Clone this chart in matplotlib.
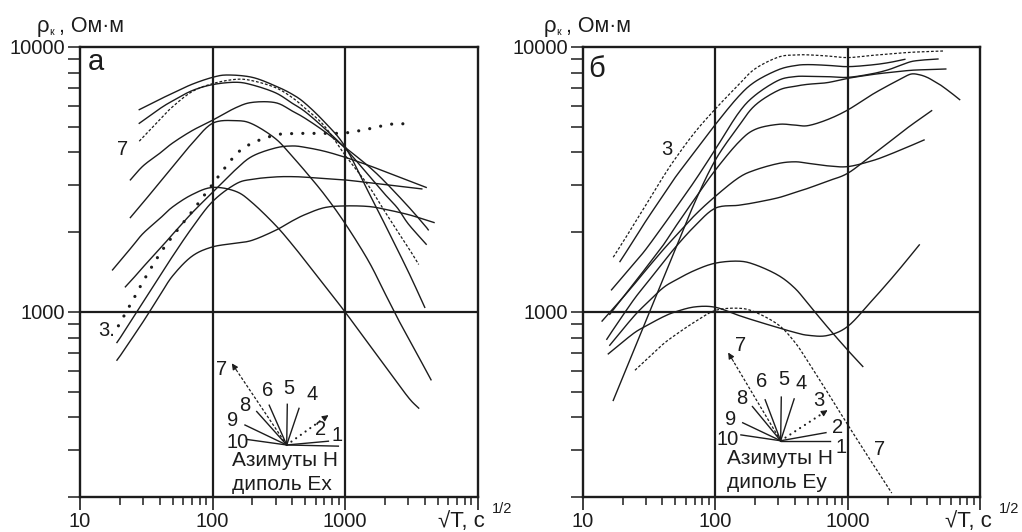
import numpy as np
import matplotlib
matplotlib.use("Agg")
import matplotlib.pyplot as plt
from matplotlib.ticker import FixedLocator, FixedFormatter, NullFormatter

plt.rcParams['font.family'] = ['Liberation Sans', 'DejaVu Sans']

# ---------------- Panel "а" (dipole Ex): sqrt(T) [s^1/2] vs rho_k [Ohm*m]
A1_X = [28, 40, 50, 70, 100, 130, 200, 300, 400, 500, 700, 1000, 1500, 2000, 3000, 4000]
A1_Y = [5800, 6345, 6690, 7230, 7680, 7840, 7680, 7120, 6630, 6130, 5210, 4210, 2840, 2140, 1420, 1040]

A2_X = [28, 40, 50, 70, 100, 150, 200, 300, 400, 500, 700, 1000, 1500, 2000, 2500, 3000, 4100]
A2_Y = [5150, 5850, 6260, 6840, 7210, 7360, 7190, 6710, 6130, 5700, 4930, 4150, 3290, 2780, 2460, 2150, 1800]

A7_X = [28, 40, 50, 70, 100, 150, 200, 300, 400, 500, 700, 1000, 1500, 2000, 2500, 3000, 3600]
A7_Y = [4410, 5320, 5950, 6780, 7270, 7550, 7460, 7020, 6440, 5870, 5030, 3910, 3000, 2390, 2010, 1750, 1510]

A4_X = [24, 30, 40, 50, 70, 100, 150, 200, 300, 400, 500, 700, 1000, 1500, 2000, 3000, 4000, 4250]
A4_Y = [3150, 3560, 3970, 4340, 4830, 5290, 5900, 6180, 6160, 5730, 5380, 4800, 4180, 3550, 3100, 2500, 2120, 2040]

A5_X = [24, 30, 40, 50, 70, 100, 150, 200, 300, 400, 500, 700, 1000, 1500, 2000, 2500, 3000, 4000, 4460]
A5_Y = [2270, 2590, 3085, 3530, 4320, 5150, 5270, 5120, 4500, 3860, 3400, 2770, 2160, 1560, 1176, 944, 798, 613, 554]

A8_X = [17.6, 20, 25, 30, 40, 50, 70, 100, 150, 200, 300, 400, 500, 700, 1000, 1500, 2000, 3000, 3600]
A8_Y = [1440, 1553, 1775, 1980, 2250, 2490, 2770, 2950, 2850, 2580, 2120, 1795, 1560, 1259, 1000, 760, 625, 476, 433]

A6_X = [22, 25, 30, 40, 50, 70, 100, 150, 200, 300, 400, 500, 700, 1000, 1500, 2000, 3000, 4100]
A6_Y = [1243, 1332, 1478, 1729, 1963, 2363, 2825, 3450, 3870, 4160, 4230, 4180, 4040, 3835, 3576, 3385, 3130, 2950]

A9_X = [19, 20, 25, 30, 40, 50, 70, 100, 150, 200, 300, 400, 500, 700, 1000, 1500, 2000, 3000, 3800]
A9_Y = [766, 795, 946, 1091, 1363, 1622, 2075, 2608, 3041, 3167, 3232, 3240, 3225, 3186, 3148, 3076, 3022, 2954, 2912]

A10_X = [19, 20, 25, 30, 40, 50, 70, 100, 150, 200, 300, 400, 500, 700, 1000, 1500, 2000, 3000, 4000, 4700]
A10_Y = [657, 680, 802, 919, 1152, 1367, 1622, 1759, 1816, 1864, 2033, 2205, 2330, 2475, 2512, 2500, 2440, 2330, 2230, 2174]

A3_X = [19.5, 22, 25, 30, 40, 50, 70, 100, 150, 200, 300, 400, 500, 700, 1000, 1500, 2000, 2500, 3000]
A3_Y = [886, 986, 1104, 1305, 1655, 1930, 2390, 3032, 3924, 4337, 4655, 4710, 4720, 4720, 4736, 4903, 5070, 5136, 5110]

# ---------------- Panel "б" (dipole Ey)
B3_X = [17, 20, 25, 30, 40, 50, 70, 100, 150, 200, 300, 400, 500, 700, 1000, 1500, 2000, 3000, 5000, 5300]
B3_Y = [1608, 1826, 2186, 2533, 3204, 3790, 4756, 5828, 7199, 8274, 9160, 9330, 9340, 9250, 9120, 9290, 9400, 9550, 9650, 9660]

B1_X = [19.1, 20, 25, 30, 40, 50, 70, 100, 150, 200, 300, 400, 500, 700, 1000, 1500, 2000, 2500, 2700]
B1_Y = [1548, 1603, 1908, 2205, 2732, 3222, 4022, 5089, 6505, 7396, 8208, 8507, 8580, 8527, 8430, 8552, 8716, 8910, 8984]

B2_X = [16.5, 20, 25, 30, 40, 50, 70, 100, 150, 200, 300, 400, 500, 700, 1000, 1500, 2000, 2500, 3000, 3500, 4000, 4800]
B2_Y = [1211, 1355, 1544, 1724, 2099, 2454, 3120, 4100, 5636, 6570, 7485, 7729, 7751, 7729, 7680, 7910, 8189, 8527, 8804, 8906, 8957, 9010]

B4_X = [17, 20, 25, 30, 40, 50, 70, 100, 150, 200, 300, 400, 500, 700, 1000, 1500, 2000, 3000, 4000, 5500]
B4_Y = [463, 564, 738, 925, 1313, 1724, 2586, 3735, 5018, 6024, 6863, 7104, 7230, 7335, 7615, 7860, 8000, 8166, 8213, 8260]

B5_X = [16, 20, 25, 30, 40, 50, 70, 100, 150, 200, 300, 400, 500, 700, 1000, 1500, 2000, 2500, 3000, 3500, 4000, 4500, 5000, 6000, 7000]
B5_Y = [979, 1129, 1302, 1466, 1770, 2093, 2669, 3424, 4367, 4884, 5106, 5071, 5047, 5314, 5783, 6577, 7134, 7566, 7902, 7850, 7670, 7420, 7194, 6727, 6328]

B6_X = [14, 16, 20, 25, 30, 40, 50, 70, 100, 150, 200, 300, 400, 500, 700, 1000, 1500, 2000, 3000, 3500, 3770]
B6_Y = [923, 995, 1129, 1287, 1438, 1704, 1928, 2314, 2728, 3208, 3432, 3633, 3686, 3639, 3560, 3535, 3709, 3902, 4243, 4386, 4457]

B8_X = [15.2, 16, 20, 25, 30, 40, 50, 70, 100, 150, 200, 300, 400, 500, 700, 1000, 1500, 2000, 2500, 3000, 3500, 4000, 4300]
B8_Y = [788, 820, 967, 1134, 1272, 1523, 1752, 2107, 2462, 2526, 2586, 2698, 2825, 2926, 3113, 3336, 3879, 4329, 4725, 5062, 5346, 5605, 5749]

B9_X = [16, 20, 25, 30, 40, 50, 70, 100, 150, 200, 300, 400, 500, 700, 1000, 1300]
B9_Y = [748, 857, 977, 1071, 1227, 1316, 1434, 1527, 1554, 1507, 1373, 1227, 1076, 879, 717, 622]

B10_X = [15.6, 20, 25, 30, 40, 50, 70, 100, 150, 200, 300, 400, 500, 700, 1000, 1500, 2000, 2500, 3000, 3470]
B10_Y = [694, 769, 839, 884, 955, 1000, 1044, 1041, 970, 926, 871, 836, 816, 814, 881, 1093, 1285, 1465, 1637, 1790]

B7_X = [24.8, 30, 40, 50, 70, 100, 150, 200, 300, 400, 500, 700, 1000, 1500, 2000, 2150]
B7_Y = [602, 658, 752, 818, 916, 1012, 1032, 998, 893, 767, 650, 499, 375, 273, 219, 207]

X_TICKS = [10, 100, 1000, 10000]
X_TICK_LABELS = ['10', '100', '1000', '']
Y_TICKS = [1000, 10000]
Y_TICK_LABELS = ['1000', '10000']


def smooth_loglog(x, y, n=14):
    """Catmull-Rom path through the points, built in log-log space."""
    p = np.column_stack([np.log10(x), np.log10(y)])
    P = np.vstack([2 * p[0] - p[1], p, 2 * p[-1] - p[-2]])
    t = np.linspace(0, 1, n, endpoint=False)[:, None]
    segs = []
    for i in range(1, len(P) - 2):
        p0, p1, p2, p3 = P[i - 1], P[i], P[i + 1], P[i + 2]
        segs.append(0.5 * (2 * p1 + (-p0 + p2) * t
                           + (2 * p0 - 5 * p1 + 4 * p2 - p3) * t ** 2
                           + (-p0 + 3 * p1 - 3 * p2 + p3) * t ** 3))
    segs.append(p[-1:])
    s = np.vstack(segs)
    return 10 ** s[:, 0], 10 ** s[:, 1]


INK = '#1c1c1c'
SOLID = dict(color=INK, lw=1.0, ls='-')
DASHED = dict(color=INK, lw=0.9, ls=(0, (2.2, 1.5)))
DOTTED = dict(color=INK, lw=2.3, ls=(0, (0.01, 3.5)), dash_capstyle='round')

fig = plt.figure(figsize=(10.22, 5.32), dpi=100)
W, H = 1022, 532
ax_a = fig.add_axes([80 / W, 1 - 497 / H, 397.5 / W, 450 / H])
ax_b = fig.add_axes([582.7 / W, 1 - 497 / H, 397.5 / W, 450 / H])


def setup(ax):
    ax.set_xscale('log')
    ax.set_yscale('log')
    ax.set_xlim(10, 10000)
    ax.set_ylim(200, 10000)
    ax.xaxis.set_major_locator(FixedLocator(X_TICKS))
    ax.xaxis.set_major_formatter(FixedFormatter(X_TICK_LABELS))
    ax.xaxis.set_minor_locator(FixedLocator([m * d for d in (10, 100, 1000) for m in range(2, 10)]))
    ax.xaxis.set_minor_formatter(NullFormatter())
    ax.yaxis.set_major_locator(FixedLocator(Y_TICKS))
    ax.yaxis.set_major_formatter(FixedFormatter(Y_TICK_LABELS))
    ax.yaxis.set_minor_locator(FixedLocator([m * d for d in (100, 1000) for m in range(2, 10)]))
    ax.yaxis.set_minor_formatter(NullFormatter())
    ax.tick_params(axis='x', which='major', direction='out', length=9, width=1.2, pad=1.5,
                   labelsize=14.5, colors=INK)
    ax.tick_params(axis='x', which='minor', direction='out', length=6, width=1.1, colors=INK)
    ax.tick_params(axis='y', which='both', direction='out', length=9, width=1.1, pad=1.5,
                   labelsize=14.5, colors=INK)
    for s in ax.spines.values():
        s.set_linewidth(1.7)
        s.set_color(INK)
    for v in (100, 1000):
        ax.axvline(v, color=INK, lw=1.6, zorder=1)
    ax.axhline(1000, color=INK, lw=1.6, zorder=1)


setup(ax_a)
setup(ax_b)


def curve(ax, x, y, style):
    sx, sy = smooth_loglog(x, y)
    ax.plot(sx, sy, zorder=3, **style)


for x, y in [(A1_X, A1_Y), (A2_X, A2_Y), (A4_X, A4_Y), (A5_X, A5_Y), (A8_X, A8_Y),
             (A6_X, A6_Y), (A9_X, A9_Y), (A10_X, A10_Y)]:
    curve(ax_a, x, y, SOLID)
curve(ax_a, A7_X, A7_Y, DASHED)
curve(ax_a, A3_X, A3_Y, DOTTED)

for x, y in [(B1_X, B1_Y), (B2_X, B2_Y), (B4_X, B4_Y), (B5_X, B5_Y), (B6_X, B6_Y),
             (B8_X, B8_Y), (B9_X, B9_Y), (B10_X, B10_Y)]:
    curve(ax_b, x, y, SOLID)
curve(ax_b, B3_X, B3_Y, DASHED)
curve(ax_b, B7_X, B7_Y, DASHED)

TXT = dict(fontsize=14.5, color=INK, ha='center', va='center')


def rose(ax, center, rays, labels, caption):
    """Azimuth diagram of H directions, drawn in axes fraction."""
    cx, cy = center
    for name, (ex, ey, kind) in rays.items():
        if kind == 'solid':
            ax.plot([cx, ex], [cy, ey], transform=ax.transAxes, color=INK, lw=1.0, zorder=4)
        else:
            st = DASHED if kind == 'dash' else dict(color=INK, lw=1.6, ls=(0, (0.01, 2.6)),
                                                     dash_capstyle='round')
            fx = cx + (ex - cx) * 0.9
            fy = cy + (ey - cy) * 0.9
            ax.plot([cx, fx], [cy, fy], transform=ax.transAxes, zorder=4, **st)
            ax.annotate('', xy=(ex, ey), xytext=(fx, fy), xycoords='axes fraction',
                        textcoords='axes fraction',
                        arrowprops=dict(arrowstyle='-|>', color=INK, lw=0.8,
                                        mutation_scale=9, shrinkA=0, shrinkB=0))
    for name, (lx, ly) in labels.items():
        ax.text(lx, ly, name, transform=ax.transAxes, **TXT)
    for text, (tx, ty) in caption:
        ax.text(tx, ty, text, transform=ax.transAxes, **dict(TXT, fontsize=15))


rose(ax_a, (0.520, 0.1156),
     {'1': (0.650, 0.113, 'solid'), '2': (0.625, 0.124, 'solid'), '3': (0.625, 0.182, 'dot'),
      '4': (0.551, 0.197, 'solid'), '5': (0.5215, 0.206, 'solid'), '6': (0.476, 0.204, 'solid'),
      '7': (0.382, 0.297, 'dash'), '8': (0.4445, 0.190, 'solid'), '9': (0.415, 0.160, 'solid'),
      '10': (0.419, 0.128, 'solid')},
     {'1': (0.646, 0.137), '2': (0.606, 0.151), '4': (0.583, 0.228), '5': (0.526, 0.241),
      '6': (0.472, 0.236), '8': (0.415, 0.203), '9': (0.384, 0.169), '10': (0.396, 0.121),
      '7': (0.3555, 0.284)},
     [('Азимуты H', (0.5165, 0.082)), ('диполь Ex', (0.509, 0.027))])

rose(ax_b, (0.498, 0.125),
     {'1': (0.622, 0.125, 'solid'), '2': (0.612, 0.143, 'solid'), '3': (0.616, 0.193, 'dot'),
      '4': (0.532, 0.218, 'solid'), '5': (0.4996, 0.222, 'solid'), '6': (0.459, 0.216, 'solid'),
      '7': (0.366, 0.321, 'dash'), '8': (0.427, 0.201, 'solid'), '9': (0.4025, 0.165, 'solid'),
      '10': (0.398, 0.138, 'solid')},
     {'1': (0.649, 0.110), '2': (0.641, 0.154), '3': (0.593, 0.214), '4': (0.549, 0.253),
      '5': (0.506, 0.262), '6': (0.451, 0.256), '8': (0.400, 0.218), '9': (0.372, 0.172),
      '10': (0.364, 0.128), '7': (0.396, 0.336)},
     [('Азимуты H', (0.496, 0.086)), ('диполь Ey', (0.488, 0.032))])

# curve numbers inside the plots
ax_a.text(0.107, 0.773, '7', transform=ax_a.transAxes, **TXT)
ax_a.text(0.067, 0.369, '3.', transform=ax_a.transAxes, **TXT)
ax_b.text(0.2126, 0.773, '3', transform=ax_b.transAxes, **TXT)
ax_b.text(0.748, 0.106, '7', transform=ax_b.transAxes, **TXT)

# panel letters
ax_a.text(0.02, 0.948, 'а', transform=ax_a.transAxes, fontsize=21, color=INK,
          ha='left', va='baseline')
ax_b.text(0.013, 0.933, 'б', transform=ax_b.transAxes, fontsize=21, color=INK,
          ha='left', va='baseline')

# axis captions
for rx, xx in ((37, 438), (544, 944.7)):
    fig.text(rx / W, 1 - 32 / H, 'ρ', fontsize=16, color=INK, va='baseline')
    fig.text((rx + 12.5) / W, 1 - 35 / H, 'к', fontsize=7.5, color=INK, va='baseline')
    fig.text((rx + 22) / W, 1 - 32 / H, ', Ом·м', fontsize=15.5, color=INK, va='baseline')
    fig.text(xx / W, 1 - 527 / H, '√T, c', fontsize=16, color=INK, va='baseline')
    fig.text((xx + 54) / W, 1 - 513 / H, '1/2', fontsize=10.5, color=INK, va='baseline')

fig.savefig('out.png', dpi=100)
